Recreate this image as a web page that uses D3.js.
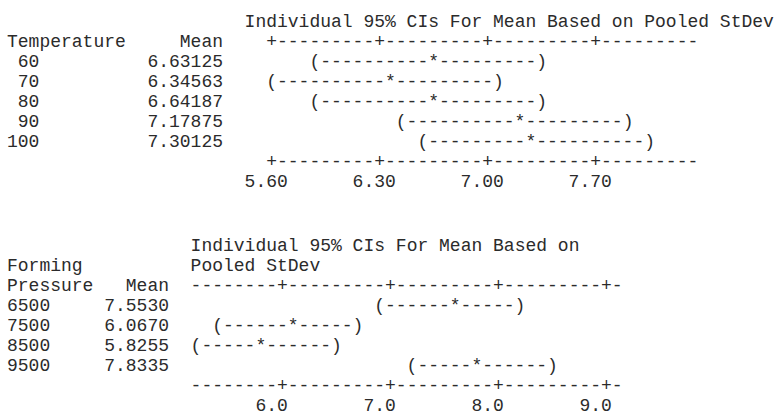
<!DOCTYPE html>
<html>
<head>
<meta charset="utf-8">
<script src="https://cdn.jsdelivr.net/npm/d3@7"></script>
<style>
body { margin: 0; background: #fff; }
text { font-family: "Liberation Mono", "Courier New", monospace; font-size: 18px; fill: #2b2b2b; }
</style>
</head>
<body>
<svg class="chart" width="779" height="415"></svg>
<script>
// Temperature block
var tempLevels = ["60", "70", "80", "90", "100"];
var tempMeans = [6.63125, 6.34563, 6.64187, 7.17875, 7.30125];
var tempLower = [5.90, 5.61, 5.91, 6.44, 6.57];
var tempUpper = [7.36, 7.08, 7.38, 7.91, 8.04];
var tempTicks = [5.60, 6.30, 7.00, 7.70];
var tempTickLabels = ["5.60", "6.30", "7.00", "7.70"];
var tempAxisEnds = [5.60, 8.33];

// Forming pressure block
var pressLevels = ["6500", "7500", "8500", "9500"];
var pressMeans = [7.5530, 6.0670, 5.8255, 7.8335];
var pressLower = [6.90, 5.42, 5.18, 7.18];
var pressUpper = [8.20, 6.72, 6.48, 8.48];
var pressTicks = [6.0, 7.0, 8.0, 9.0];
var pressTickLabels = ["6.0", "7.0", "8.0", "9.0"];
var pressAxisEnds = [5.2, 9.1];

// character grid (Minitab text output)
var left = 7, cw = 10.8, lh = 20;
function colX(c) { return left + c * cw; }
function snap(px) { return Math.round((px - left) / cw); }

var svg = d3.select('.chart');

function drawBlock(opt) {
    var g = svg.append('g').attr('class', 'block');
    var y = function(line) { return opt.top + line * lh; };

    var x = d3.scaleLinear()
        .domain([opt.ticks[0], opt.ticks[opt.ticks.length - 1]])
        .range([colX(opt.firstTickCol), colX(opt.firstTickCol + 10 * (opt.ticks.length - 1))]);

    // header text
    opt.title.forEach(function(t, i) {
        g.append('text').attr('x', colX(opt.titleCol)).attr('y', y(i)).text(t);
    });
    opt.factor.forEach(function(t, i) {
        g.append('text').attr('x', colX(0)).attr('y', y(opt.headLine - opt.factor.length + 1 + i)).text(t);
    });
    g.append('text')
        .attr('x', colX(opt.meanEnd)).attr('y', y(opt.headLine))
        .attr('text-anchor', 'end').text('Mean');

    // axis lines of + and -
    var tickCols = opt.ticks.map(function(d) { return snap(x(d)); });
    var a0 = snap(x(opt.axisEnds[0])), a1 = snap(x(opt.axisEnds[1]));
    var axisStr = '';
    for (var c = a0; c <= a1; c++) axisStr += tickCols.indexOf(c) >= 0 ? '+' : '-';
    [opt.headLine, opt.headLine + opt.levels.length + 1].forEach(function(line) {
        g.append('text').attr('x', colX(a0)).attr('y', y(line)).text(axisStr);
    });

    // tick labels
    g.selectAll('.tick')
        .data(opt.ticks)
        .enter().append('text')
        .attr('x', function(d) { return colX(snap(x(d)) - 2); })
        .attr('y', y(opt.headLine + opt.levels.length + 2))
        .text(function(d, i) { return opt.tickLabels[i]; });

    // rows
    var rows = opt.levels.map(function(l, i) {
        return { level: l, mean: opt.means[i], meanText: opt.meanText[i], lo: opt.lower[i], hi: opt.upper[i], line: opt.headLine + 1 + i };
    });

    g.selectAll('.level')
        .data(rows)
        .enter().append('text')
        .attr('x', colX(opt.levelEnd))
        .attr('y', function(d) { return y(d.line); })
        .attr('text-anchor', opt.levelAnchor)
        .text(function(d) { return d.level; });

    g.selectAll('.mean')
        .data(rows)
        .enter().append('text')
        .attr('x', colX(opt.meanEnd))
        .attr('y', function(d) { return y(d.line); })
        .attr('text-anchor', 'end')
        .text(function(d) { return d.meanText; });

    g.selectAll('.ci')
        .data(rows)
        .enter().append('text')
        .attr('x', function(d) { return colX(snap(x(d.lo))); })
        .attr('y', function(d) { return y(d.line); })
        .text(function(d) {
            var cl = snap(x(d.lo)), cm = snap(x(d.mean)), ch = snap(x(d.hi));
            return '(' + '-'.repeat(cm - cl - 1) + '*' + '-'.repeat(ch - cm - 1) + ')';
        });
}

drawBlock({
    top: 26.5,
    title: ["Individual 95% CIs For Mean Based on Pooled StDev"],
    titleCol: 22,
    factor: ["Temperature"],
    headLine: 1,
    meanEnd: 20,
    levelEnd: 3,
    levelAnchor: 'end',
    levels: tempLevels,
    means: tempMeans,
    meanText: tempMeans.map(function(d) { return d.toFixed(5); }),
    lower: tempLower,
    upper: tempUpper,
    ticks: tempTicks,
    tickLabels: tempTickLabels,
    axisEnds: tempAxisEnds,
    firstTickCol: 24
});

drawBlock({
    top: 250.5,
    title: ["Individual 95% CIs For Mean Based on", "Pooled StDev"],
    titleCol: 17,
    factor: ["Forming", "Pressure"],
    headLine: 2,
    meanEnd: 15,
    levelEnd: 0,
    levelAnchor: 'start',
    levels: pressLevels,
    means: pressMeans,
    meanText: pressMeans.map(function(d) { return d.toFixed(4); }),
    lower: pressLower,
    upper: pressUpper,
    ticks: pressTicks,
    tickLabels: pressTickLabels,
    axisEnds: pressAxisEnds,
    firstTickCol: 25
});
</script>
</body>
</html>
